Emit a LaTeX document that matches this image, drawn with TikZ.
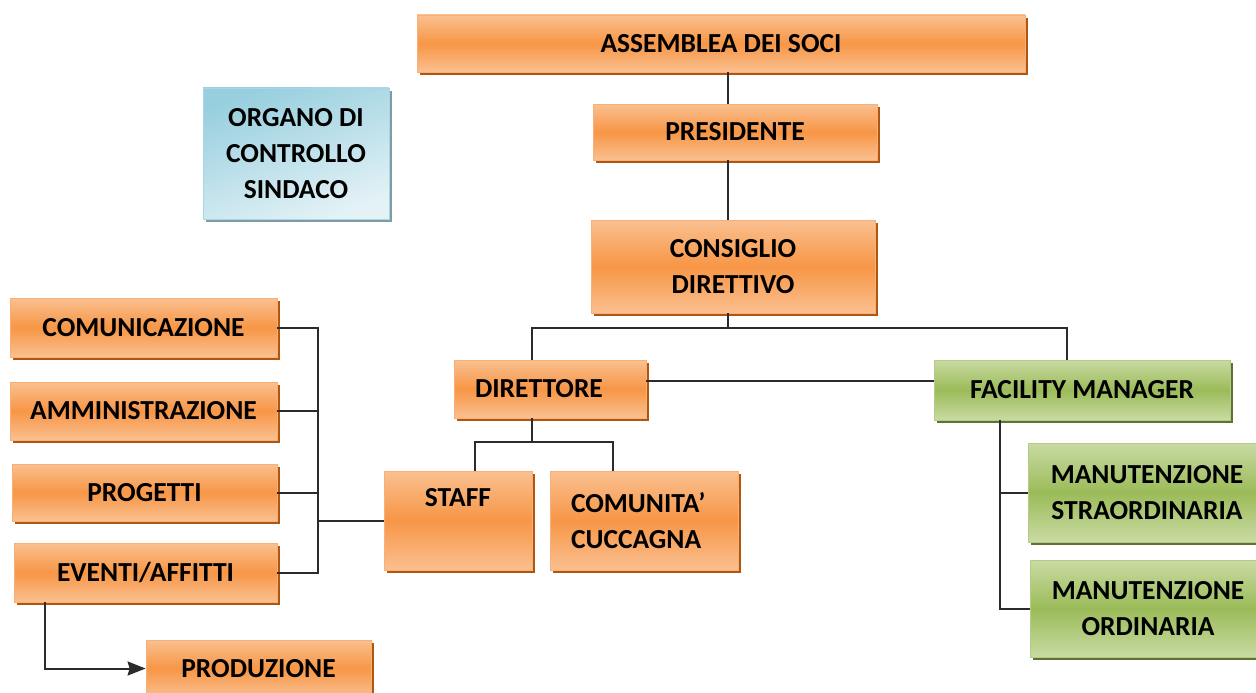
\documentclass[tikz,border=0pt]{standalone}
\usepackage{fontspec}
\setmainfont{Carlito}
\usetikzlibrary{shadows,arrows.meta,calc}
\definecolor{orMid}{HTML}{F79646}
\definecolor{orLight}{HTML}{FAC090}
\definecolor{orEdge}{HTML}{F8B07A}
\definecolor{orShadow}{HTML}{B0560F}
\definecolor{grMid}{HTML}{9BBB59}
\definecolor{grLight}{HTML}{C9DBA3}
\definecolor{grEdge}{HTML}{B5CC88}
\definecolor{grShadow}{HTML}{5F7233}
\definecolor{blDark}{HTML}{98CFDF}
\definecolor{blLight}{HTML}{E4F2F6}
\definecolor{blEdge}{HTML}{A8D6E3}
\definecolor{blShadow}{HTML}{7F9CA5}
\definecolor{lineC}{HTML}{2B2B2B}
\tikzset{
  x=1pt, y=-1pt,
  basebox/.style={inner sep=0pt, align=center, line width=0.8pt,
    font=\bfseries\fontsize{27.5}{36}\selectfont, text=black},
  obox/.style={basebox, draw=orEdge, top color=orLight, bottom color=orLight, middle color=orMid,
    drop shadow={shadow xshift=3pt, shadow yshift=-3pt, fill=orShadow, opacity=1}},
  gbox/.style={basebox, draw=grEdge, top color=grLight, bottom color=grLight, middle color=grMid,
    drop shadow={shadow xshift=3pt, shadow yshift=-3pt, fill=grShadow, opacity=1}},
  bbox/.style={basebox, draw=blEdge, top color=blDark, bottom color=blLight, shading angle=20,
    drop shadow={shadow xshift=3pt, shadow yshift=-3pt, fill=blShadow, opacity=1}},
  conn/.style={draw=lineC, line width=2pt},
}
\begin{document}
\begin{tikzpicture}
\useasboundingbox (0,0) rectangle (1256,693);
% boxes
\node[obox, minimum width=608, minimum height=57] (ass) at (721,43.5) {ASSEMBLEA DEI SOCI};
\node[obox, minimum width=284, minimum height=56] (pres) at (735,132) {PRESIDENTE};
\node[obox, minimum width=284, minimum height=93] (cons) at (733,266.5) {CONSIGLIO\\DIRETTIVO};
\node[bbox, minimum width=186, minimum height=131] (org) at (296,153.5) {ORGANO DI\\CONTROLLO\\SINDACO};
\node[obox, minimum width=267, minimum height=59] (com) at (143.5,327.5) {COMUNICAZIONE};
\node[obox, minimum width=267, minimum height=58] (amm) at (143.5,411) {AMMINISTRAZIONE};
\node[obox, minimum width=265, minimum height=57] (prog) at (144.5,492.5) {PROGETTI};
\node[obox, minimum width=263, minimum height=59] (eve) at (145.5,572.5) {EVENTI/AFFITTI};
\node[obox, minimum width=225, minimum height=57] (prod) at (258.5,668.5) {PRODUZIONE};
\node[obox, minimum width=192, minimum height=58, text width=150, align=left, inner xsep=21pt] (dir) at (550,389) {DIRETTORE};
\node[obox, minimum width=148, text height=35pt, text depth=64pt] (staff) at (458,520.5) {STAFF};
\node[obox, minimum width=188, minimum height=99, text width=146, align=left, inner xsep=21pt] (cucc) at (644,520.5) {COMUNITA’\\CUCCAGNA};
\node[gbox, minimum width=296, minimum height=60] (fac) at (1082,390) {FACILITY MANAGER};
\node[gbox, minimum width=238, minimum height=99] (mstr) at (1147,492.5) {MANUTENZIONE\\STRAORDINARIA};
\node[gbox, minimum width=236, minimum height=97] (mord) at (1148,608.5) {MANUTENZIONE\\ORDINARIA};
% helper coordinates
\coordinate (trunk) at (728,0);
\coordinate (busC) at (0,328);
\coordinate (dirX) at (532,0);
\coordinate (facX) at (1067,0);
\coordinate (busD) at (0,442);
\coordinate (stX) at (475,0);
\coordinate (cuX) at (613,0);
\coordinate (busL) at (318,0);
\coordinate (facB) at (1000,0);
\coordinate (eveX) at (45,0);
\coordinate (dfY) at (0,381);
% connectors
\draw[conn] (ass.south -| trunk) -- (pres.north -| trunk);
\draw[conn] (pres.south -| trunk) -- (cons.north -| trunk);
\draw[conn] (cons.south -| trunk) -- (busC -| trunk);
\draw[conn] (dir.north -| dirX) -- (busC -| dirX) -- (busC -| facX) -- (fac.north -| facX);
\draw[conn] (dir.east |- dfY) -- (fac.west |- dfY);
\draw[conn] (dir.south -| dirX) -- (busD -| dirX);
\draw[conn] (staff.north -| stX) -- (busD -| stX) -- (busD -| cuX) -- (cucc.north -| cuX);
\draw[conn] (com.east) -- (com.east -| busL) -- (eve.east -| busL) -- (eve.east);
\draw[conn] (amm.east) -- (amm.east -| busL);
\draw[conn] (prog.east) -- (prog.east -| busL);
\draw[conn] (staff.west) -- (staff.west -| busL);
\draw[conn] (fac.south -| facB) -- (mord.west -| facB) -- (mord.west);
\draw[conn] (mstr.west -| facB) -- (mstr.west);
\draw[conn, -{Stealth[length=18pt,width=14pt,inset=2pt]}] (eve.south -| eveX) -- (prod.west -| eveX) -- (prod.west);
\end{tikzpicture}
\end{document}
